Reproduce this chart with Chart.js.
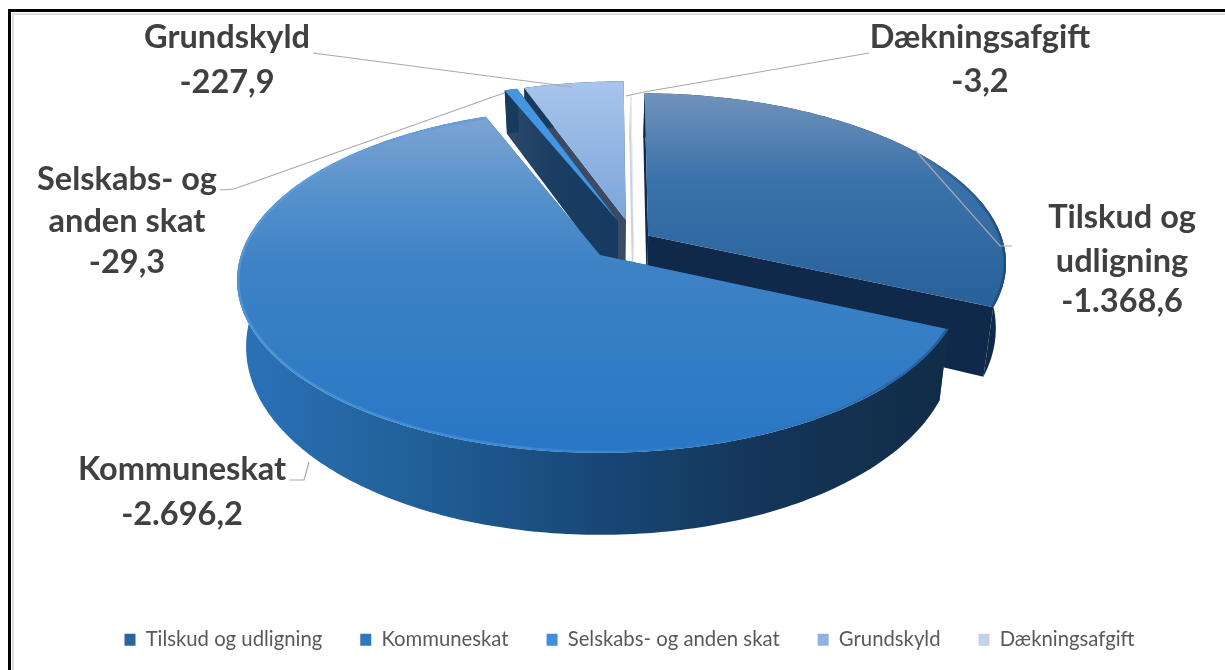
<!DOCTYPE html>
<html><head><meta charset="utf-8">
<script src="https://cdn.jsdelivr.net/npm/chart.js@4"></script>
<style>
html,body{margin:0;padding:0;background:#fff;overflow:hidden}
#wrap{position:relative;width:1225px;height:670px}
canvas{position:absolute;left:0;top:0}
.f{position:absolute}
</style></head><body>
<div id="wrap">
<canvas id="c" width="1225" height="670"></canvas>
<div class="f" style="left:12px;top:13px;right:0;height:2px;background:#dcdcdc"></div>
<div class="f" style="left:12px;top:13px;bottom:0;width:2px;background:#dcdcdc"></div>
<div class="f" style="left:8px;top:9px;right:0;height:2.5px;background:#000"></div>
<div class="f" style="left:8px;top:9px;bottom:0;width:2.5px;background:#000"></div>
</div>
<script>
const categories = ['Tilskud og udligning','Kommuneskat','Selskabs- og anden skat','Grundskyld','Dækningsafgift'];
const values = [-1368.6,-2696.2,-29.3,-227.9,-3.2];
const labelLines = [['Tilskud og','udligning'],['Kommuneskat'],['Selskabs- og','anden skat'],['Grundskyld'],['Dækningsafgift']];
const legendColors = ['#2b659f','#2f78bf','#3f8fdc','#8fb2e0','#c5d3e6'];
const sliceOffsets = [10,26,25,25,0];

// view of the tilted disc
const V = {X0:598, Y0:255, A:359, B:168.7, k:0.148, Cu:0.10, Cv:-0.09};
const LABELS = [
 {x:1122,ys:[218,262,302]},
 {x:182, ys:[470,515]},
 {x:127, ys:[180,222,263]},
 {x:227, ys:[38,83]},
 {x:980, ys:[38,82]}
];
const LEADERS = [
 [[1012,246],[1000,246],[915,150]],
 [[289,480],[304,480],[309,462]],
 [[220,190],[234,189],[504,93]],
 [[313,53],[572,87]],
 [[869,53],[644,92],[626,96]]
];

function P(u,v){
  const uu=u+V.Cu, vv=v+V.Cv, w=1/(1-V.k*vv);
  return [V.X0+V.A*uu*w, V.Y0+V.B*vv*w];
}
function Pb(u,v){
  const p=P(u,v), vv=v+V.Cv;
  return [V.X0+(p[0]-V.X0)*0.975, p[1]+64+18*vv];
}
function grad(ctx,x0,y0,x1,y1,stops){
  const g=ctx.createLinearGradient(x0,y0,x1,y1);
  stops.forEach(s=>g.addColorStop(s[0],s[1]));
  return g;
}
function poly(ctx,pts){
  ctx.beginPath();
  pts.forEach((p,i)=>i?ctx.lineTo(p[0],p[1]):ctx.moveTo(p[0],p[1]));
  ctx.closePath();
}
function faceFill(ctx,i){
  if(i===0) return grad(ctx,0,92,0,310,[[0,'#7193bb'],[0.4,'#3a72aa'],[1,'#28609a']]);
  if(i===1) return grad(ctx,0,112,0,455,[[0,'#80a6d2'],[0.25,'#5490cc'],[0.45,'#3d82c5'],[1,'#2877c5']]);
  if(i===2) return '#4596e2';
  if(i===3) return grad(ctx,0,85,0,225,[[0,'#a6c4ec'],[1,'#7aa4d8']]);
  return '#e9eef4';
}
function outerFill(ctx,i){
  if(i===1) return grad(ctx,237,0,945,0,[[0,'#2a72b8'],[0.2,'#23649f'],[0.5,'#184878'],[0.75,'#143558'],[1,'#112c48']]);
  if(i===0) return '#0f2a46';
  if(i===4) return '#ccd3da';
  return '#1a3a5c';
}
function cutFill(ctx,i){
  if(i===2) return grad(ctx,505,0,615,0,[[0,'#2d4a6a'],[0.4,'#1b3e62'],[1,'#163a60']]);
  if(i===3) return '#3b4b63';
  if(i===4) return '#ccd3da';
  if(i===0) return '#10294a';
  return '#14365a';
}
const pie3d = {
  id:'pie3d',
  beforeDatasetsDraw(chart){
    const ctx=chart.ctx, meta=chart.getDatasetMeta(0);
    ctx.save();
    [4,3,2,0,1].forEach(i=>{
      const a=meta.data[i];
      const {startAngle,endAngle,outerRadius:R}=a.getProps(['startAngle','endAngle','outerRadius'],true);
      const mid=(startAngle+endAngle)/2, d=(a.options.offset||0)/R;
      const ox=Math.cos(mid)*d, oy=Math.sin(mid)*d;
      const n=Math.max(2,Math.ceil((endAngle-startAngle)*60));
      const rim=[];
      for(let j=0;j<=n;j++){
        const t=startAngle+(endAngle-startAngle)*j/n;
        rim.push([ox+Math.cos(t),oy+Math.sin(t)]);
      }
      const top=rim.map(q=>P(q[0],q[1])), bot=rim.map(q=>Pb(q[0],q[1]));
      const ct=P(ox,oy), cb=Pb(ox,oy);
      // cut walls
      ctx.fillStyle=cutFill(ctx,i);
      poly(ctx,[ct,top[0],bot[0],cb]); ctx.fill();
      poly(ctx,[ct,top[n],bot[n],cb]); ctx.fill();
      // outer wall
      ctx.fillStyle=outerFill(ctx,i);
      poly(ctx,top.concat(bot.slice().reverse())); ctx.fill();
      // face
      poly(ctx,[ct].concat(top));
      ctx.fillStyle=faceFill(ctx,i); ctx.fill();
      if(i===1){
        ctx.save(); ctx.clip();
        ctx.beginPath();
        top.forEach((p,j)=>j?ctx.lineTo(p[0],p[1]):ctx.moveTo(p[0],p[1]));
        ctx.lineWidth=5;
        ctx.strokeStyle=grad(ctx,237,0,945,0,[[0,'rgba(110,170,225,.45)'],[0.4,'rgba(75,150,225,.55)'],[0.8,'rgba(40,110,180,.3)'],[1,'rgba(25,70,120,.6)']]);
        ctx.stroke();
        ctx.restore();
      }
      if(i===0){
        ctx.save(); ctx.clip();
        ctx.beginPath();
        top.forEach((p,j)=>j?ctx.lineTo(p[0],p[1]):ctx.moveTo(p[0],p[1]));
        ctx.lineWidth=5;
        ctx.strokeStyle=grad(ctx,900,0,1005,0,[[0,'rgba(30,70,110,0)'],[1,'rgba(25,60,100,.6)']]);
        ctx.stroke();
        ctx.restore();
      }
    });
    ctx.restore();
    return false;
  },
  afterDraw(chart){
    const ctx=chart.ctx;
    ctx.save();
    ctx.strokeStyle='#a9a9a9'; ctx.lineWidth=1.2;
    LEADERS.forEach(l=>{
      ctx.beginPath();
      l.forEach((p,j)=>j?ctx.lineTo(p[0],p[1]):ctx.moveTo(p[0],p[1]));
      ctx.stroke();
    });
    ctx.fillStyle='#404040';
    ctx.font='bold 32.5px Lato';
    ctx.textAlign='center'; ctx.textBaseline='middle';
    values.forEach((v,i)=>{
      const txt=labelLines[i].concat([fmt(v)]);
      txt.forEach((t,j)=>ctx.fillText(t,LABELS[i].x,LABELS[i].ys[j]));
    });
    ctx.restore();
  }
};
function fmt(v){
  const s=Math.abs(v).toFixed(1).split('.');
  return '-'+s[0].replace(/\B(?=(\d{3})+$)/g,'.')+','+s[1];
}
new Chart(document.getElementById('c'),{
  type:'pie',
  data:{labels:categories,datasets:[{data:values,backgroundColor:legendColors,offset:sliceOffsets,borderWidth:0}]},
  options:{
    responsive:false,animation:false,devicePixelRatio:1,radius:200,rotation:0.5,
    layout:{padding:{left:34,bottom:10}},
    plugins:{
      tooltip:{enabled:false},
      legend:{position:'bottom',labels:{boxWidth:11,boxHeight:12,padding:38,color:'#595959',font:{family:'Lato',size:20.3}}}
    }
  },
  plugins:[pie3d]
});
</script>
</body></html>
